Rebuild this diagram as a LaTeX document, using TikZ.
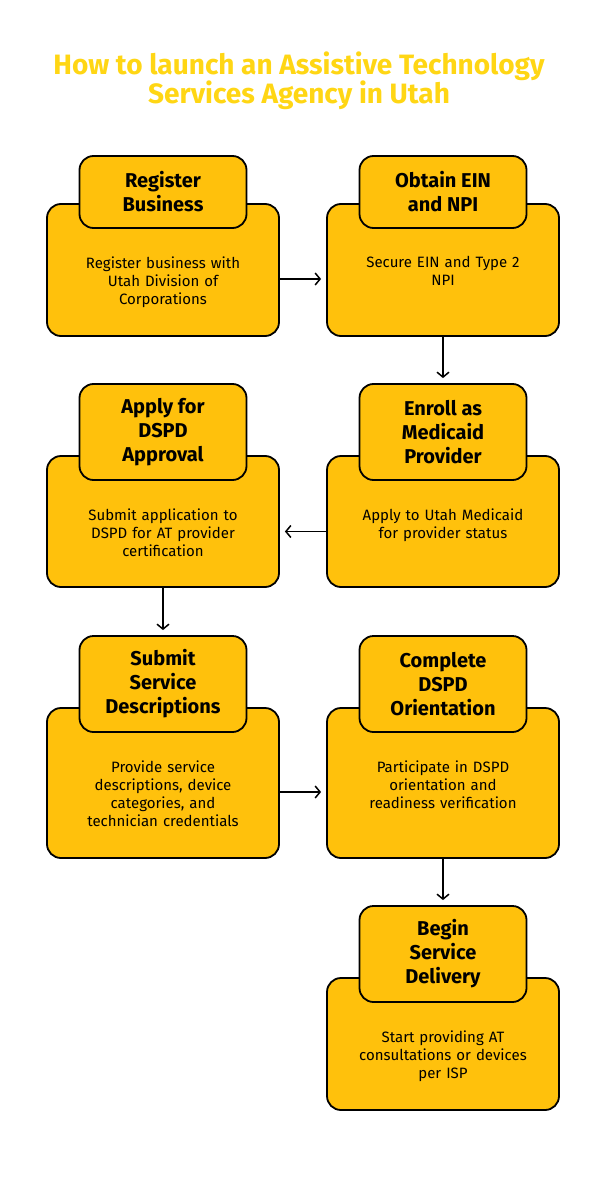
\documentclass[tikz,border=0pt]{standalone}
\usepackage{fontspec}
\setmainfont{Fira Sans}
\usetikzlibrary{arrows.meta,positioning}
\definecolor{boxColor}{RGB}{255,193,12}
\definecolor{titleColor}{RGB}{255,214,20}
\tikzset{
  bodyBox/.style={draw, line width=1.8pt, fill=boxColor, rounded corners=14pt, minimum width=232pt},
  headBox/.style={draw, line width=1.8pt, fill=boxColor, rounded corners=14pt, minimum width=167pt,
    align=center, font=\fontsize{20}{24}\selectfont\bfseries},
  bodyText/.style={align=center, text width=200pt, font=\fontsize{15}{18}\selectfont},
  flow/.style={line width=1.5pt, -{Straight Barb[length=5pt,width=12pt]}, shorten >=5pt}
}
\begin{document}
\begin{tikzpicture}[x=1pt,y=-1pt]
  \useasboundingbox (0,0) rectangle (607,1182);
  \node[text=titleColor, align=center, font=\fontsize{28}{29}\selectfont\bfseries] (title) at (299,80.5)
    {How to launch an Assistive Technology\\Services Agency in Utah};
  % Boxes
  \node[bodyBox, minimum height=132pt] (b1) at (163,270) {};
  \node[headBox, minimum height=72pt] (h1) at (163,192) {Register\\Business};
  \node[bodyText, below=24pt of h1] (t1) {Register business with\\Utah Division of\\Corporations};
  \node[bodyBox, minimum height=132pt] (b2) at (443,270) {};
  \node[headBox, minimum height=72pt] (h2) at (443,192) {Obtain EIN\\and NPI};
  \node[bodyText, below=24pt of h2] (t2) {Secure EIN and Type 2\\NPI};
  \node[bodyBox, minimum height=131pt] (b3) at (443,521.5) {};
  \node[headBox, minimum height=96pt] (h3) at (443,432) {Enroll as\\Medicaid\\Provider};
  \node[bodyText, below=24pt of h3] (t3) {Apply to Utah Medicaid\\for provider status};
  \node[bodyBox, minimum height=131pt] (b4) at (163,521.5) {};
  \node[headBox, minimum height=96pt] (h4) at (163,432) {Apply for\\DSPD\\Approval};
  \node[bodyText, below=24pt of h4] (t4) {Submit application to\\DSPD for AT provider\\certification};
  \node[bodyBox, minimum height=150pt] (b5) at (163,783) {};
  \node[headBox, minimum height=96pt] (h5) at (163,684) {Submit\\Service\\Descriptions};
  \node[bodyText, below=24pt of h5] (t5) {Provide service\\descriptions, device\\categories, and\\technician credentials};
  \node[bodyBox, minimum height=150pt] (b6) at (443,783) {};
  \node[headBox, minimum height=96pt] (h6) at (443,684) {Complete\\DSPD\\Orientation};
  \node[bodyText, below=24pt of h6] (t6) {Participate in DSPD\\orientation and\\readiness verification};
  \node[bodyBox, minimum height=132pt] (b7) at (443,1044) {};
  \node[headBox, minimum height=96pt] (h7) at (443,954) {Begin\\Service\\Delivery};
  \node[bodyText, below=24pt of h7] (t7) {Start providing AT\\consultations or devices\\per ISP};
  % Arrows
  \draw[flow] ([yshift=-9pt]b1.east) -- ([yshift=-9pt]b2.west);
  \draw[flow] (b2.south) -- (h3.north);
  \draw[flow] ([yshift=-10pt]b3.west) -- ([yshift=-10pt]b4.east);
  \draw[flow] (b4.south) -- (h5.north);
  \draw[flow] ([yshift=-9pt]b5.east) -- ([yshift=-9pt]b6.west);
  \draw[flow] (b6.south) -- (h7.north);
\end{tikzpicture}
\end{document}
